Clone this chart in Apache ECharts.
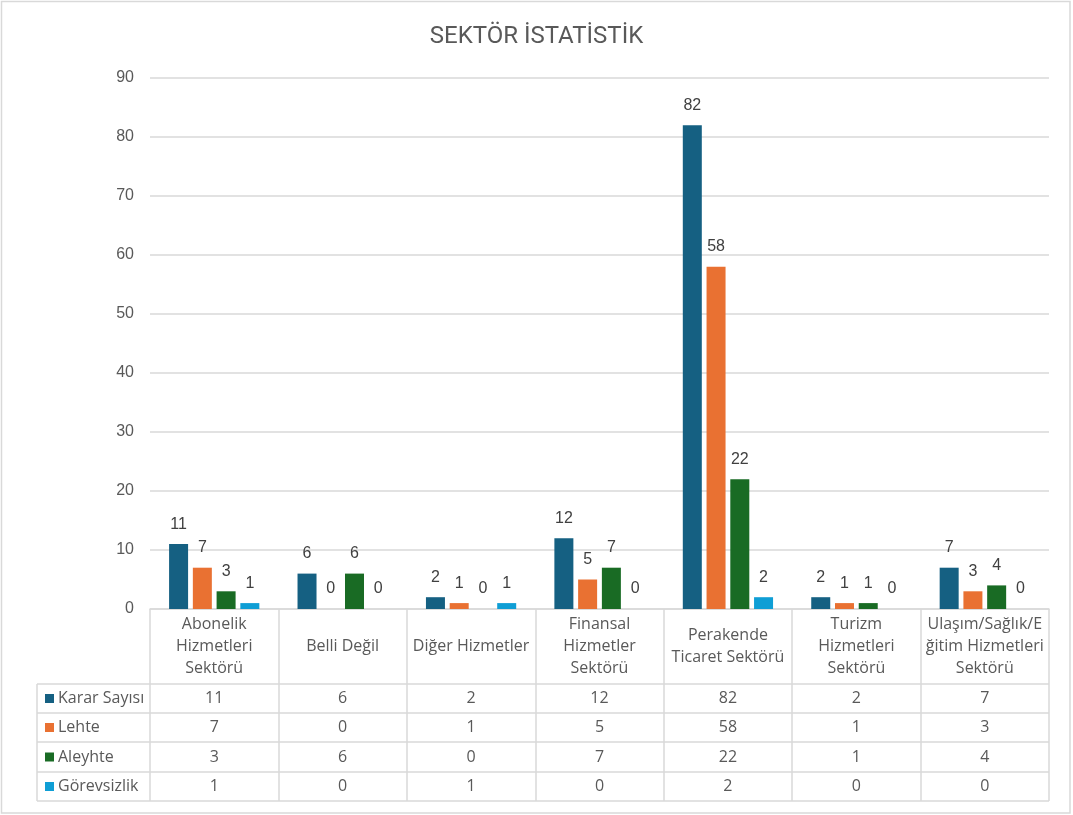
<!DOCTYPE html>
<html>
<head>
<meta charset="utf-8">
<script src="https://cdn.jsdelivr.net/npm/echarts@6/dist/echarts.min.js"></script>
<style>
  html, body { margin: 0; padding: 0; background: #fff; }
  #chart { width: 1073px; height: 815px; }
</style>
</head>
<body>
<div id="chart"></div>
<script>
// veriler
const categories = ['Abonelik Hizmetleri Sektörü', 'Belli Değil', 'Diğer Hizmetler', 'Finansal Hizmetler Sektörü',
    'Perakende Ticaret Sektörü', 'Turizm Hizmetleri Sektörü', 'Ulaşım/Sağlık/Eğitim Hizmetleri Sektörü'];
const categoryLabels = ['Abonelik\nHizmetleri\nSektörü', 'Belli Değil', 'Diğer Hizmetler', 'Finansal\nHizmetler\nSektörü',
    'Perakende\nTicaret Sektörü', 'Turizm\nHizmetleri\nSektörü', 'Ulaşım/Sağlık/E\nğitim Hizmetleri\nSektörü'];
const seriesNames = ['Karar Sayısı', 'Lehte', 'Aleyhte', 'Görevsizlik'];
const kararSayisi = [11, 6, 2, 12, 82, 2, 7];
const lehte = [7, 0, 1, 5, 58, 1, 3];
const aleyhte = [3, 6, 0, 7, 22, 1, 4];
const gorevsizlik = [1, 0, 1, 0, 2, 0, 0];
const yTicks = [0, 10, 20, 30, 40, 50, 60, 70, 80, 90];

const seriesData = [kararSayisi, lehte, aleyhte, gorevsizlik];
const colors = ['#156082', '#E97132', '#196B24', '#0F9ED5'];
const TITLE_FONT = 'Roboto';
const NUM_FONT = 'Liberation Sans';
const TABLE_FONT = 'Open Sans';
const lineColor = '#d9d9d9';

const chartDom = document.getElementById('chart');
const myChart = echarts.init(chartDom);

const option = {
    animation: false,
    textStyle: { fontFamily: NUM_FONT },
    title: {
        text: 'SEKTÖR İSTATİSTİK',
        left: 'center',
        top: 20,
        textStyle: { fontSize: 24, fontWeight: 'normal', color: '#595959', fontFamily: TITLE_FONT }
    },
    grid: { left: 150, right: 24, top: 78, bottom: 206 },
    xAxis: {
        type: 'category',
        data: categories,
        axisLine: { lineStyle: { color: lineColor, width: 1.5 } },
        axisTick: { show: true, interval: 0, length: 192, lineStyle: { color: lineColor, width: 1.5 } },
        axisLabel: {
            interval: 0,
            margin: 37,
            verticalAlign: 'middle',
            lineHeight: 22,
            fontSize: 16,
            fontFamily: TABLE_FONT,
            color: '#595959',
            formatter: (v, i) => categoryLabels[i]
        }
    },
    yAxis: {
        type: 'value',
        min: yTicks[0],
        max: yTicks[yTicks.length - 1],
        interval: 10,
        axisLine: { show: false },
        axisTick: { show: false },
        axisLabel: { fontSize: 16, color: '#595959', margin: 16 },
        splitLine: { lineStyle: { color: lineColor, width: 1.5 } }
    },
    series: seriesData.map((d, i) => ({
        name: seriesNames[i],
        type: 'bar',
        data: d,
        barWidth: 19,
        barGap: '25%',
        itemStyle: { color: colors[i] },
        label: { show: true, position: 'top', distance: 12, fontSize: 16, color: '#404040' }
    }))
};
myChart.setOption(option);

// veri tablosu
const x0 = 37, x1 = 1049;
const rowTops = [684, 713, 742, 772, 801];
const graphic = [];
rowTops.forEach(y => {
    graphic.push({ type: 'line', shape: { x1: x0, y1: y, x2: x1, y2: y }, style: { stroke: lineColor, lineWidth: 1.5 } });
});
graphic.push({ type: 'line', shape: { x1: x0, y1: rowTops[0], x2: x0, y2: rowTops[4] }, style: { stroke: lineColor, lineWidth: 1.5 } });
// dış çerçeve
graphic.push({ type: 'rect', shape: { x: 1.5, y: 1.5, width: 1068.5, height: 811.5 }, style: { fill: null, stroke: lineColor, lineWidth: 1.5 } });

seriesData.forEach((d, r) => {
    const cy = (rowTops[r] + rowTops[r + 1]) / 2;
    graphic.push({ type: 'rect', shape: { x: 45, y: cy - 4.5, width: 9, height: 9 }, style: { fill: colors[r] } });
    graphic.push({ type: 'text', x: 58, y: cy, style: { text: seriesNames[r], fontSize: 16, fontFamily: TABLE_FONT, fill: '#595959', verticalAlign: 'middle' } });
    d.forEach((v, i) => {
        const cx = myChart.convertToPixel({ xAxisIndex: 0 }, i);
        graphic.push({ type: 'text', x: cx, y: cy, style: { text: String(v), fontSize: 16, fontFamily: TABLE_FONT, fill: '#595959', align: 'center', verticalAlign: 'middle' } });
    });
});
myChart.setOption({ graphic: graphic });
</script>
</body>
</html>
